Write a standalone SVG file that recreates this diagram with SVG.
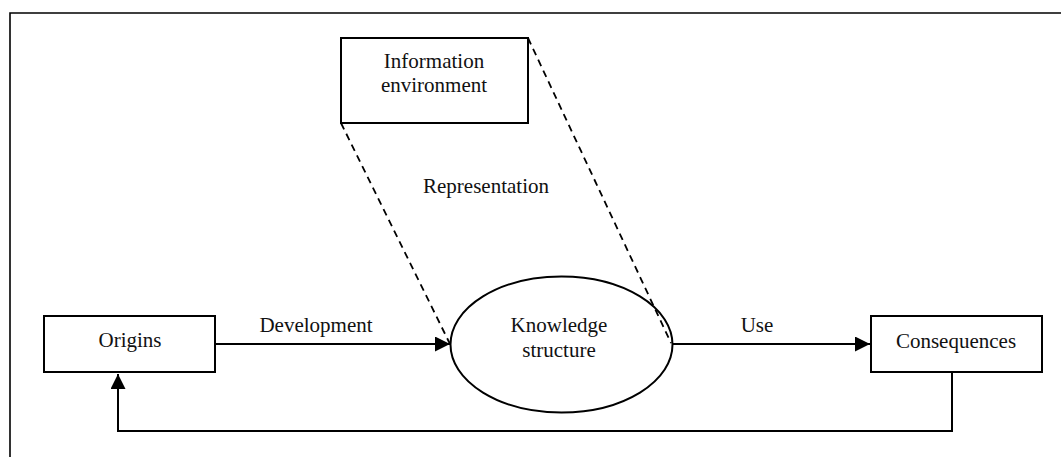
<svg xmlns="http://www.w3.org/2000/svg" width="1061" height="457" viewBox="0 0 1061 457">
<style>
.box{fill:#fff;stroke:#000;stroke-width:2}
.ln{fill:none;stroke:#000;stroke-width:2}
.dash{fill:none;stroke:#000;stroke-width:1.8;stroke-dasharray:7,5}
text{font-family:"Liberation Serif","Times New Roman",serif;font-size:21px;fill:#111;text-anchor:middle}
</style>
<defs>
<marker id="ah" viewBox="0 0 15 15" refX="15" refY="7.5" markerWidth="15" markerHeight="15" markerUnits="userSpaceOnUse" orient="auto">
<path d="M0,0 L15,7.5 L0,15 Z" fill="#000"/>
</marker>
</defs>
<rect width="1061" height="457" fill="#fff"/>
<path d="M10,457 V13 H1061" fill="none" stroke="#000" stroke-width="1.6"/>
<g id="connectors">
<line class="ln" x1="215" y1="344" x2="450" y2="344" marker-end="url(#ah)"/>
<line class="ln" x1="672" y1="344" x2="870" y2="344" marker-end="url(#ah)"/>
<polyline class="ln" points="952,372 952,431 118,431 118,374" marker-end="url(#ah)"/>
<line class="dash" x1="341" y1="123" x2="450" y2="344"/>
<line class="dash" x1="528" y1="38" x2="671" y2="343"/>
<text x="316" y="332">Development</text>
<text x="757" y="332">Use</text>
<text x="486" y="193">Representation</text>
</g>
<g id="origins">
<rect class="box" x="44" y="316" width="171" height="56"/>
<text x="130" y="347">Origins</text>
</g>
<g id="consequences">
<rect class="box" x="871" y="316" width="171" height="56"/>
<text x="956" y="348">Consequences</text>
</g>
<g id="info-env">
<rect class="box" x="341" y="38" width="187" height="85"/>
<text x="434" y="68">Information</text>
<text x="434" y="92">environment</text>
</g>
<g id="knowledge">
<ellipse class="ln" cx="561.5" cy="344.5" rx="111" ry="68"/>
<text x="559" y="332">Knowledge</text>
<text x="559" y="357">structure</text>
</g>
</svg>
